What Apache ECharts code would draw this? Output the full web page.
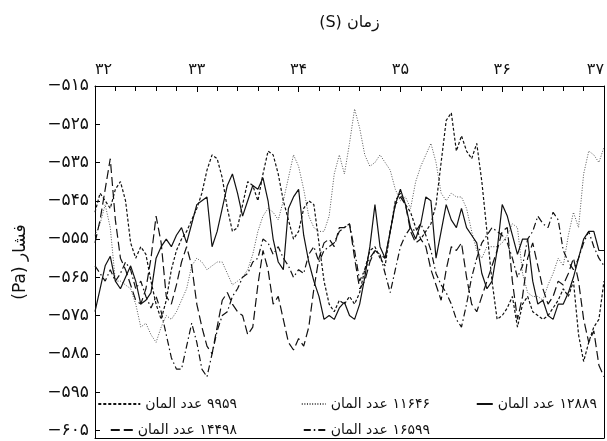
<!DOCTYPE html>
<html>
<head>
<meta charset="utf-8">
<script src="https://cdn.jsdelivr.net/npm/echarts@6/dist/echarts.min.js"></script>
<style>
  html, body { margin: 0; padding: 0; background: #fff; }
  #chart { width: 607px; height: 441px; }
</style>
</head>
<body>
<div id="chart"></div>
<script>
// sample times (s)
const times = [
  32.00, 32.05, 32.10, 32.15, 32.20, 32.25, 32.30, 32.35, 32.40, 32.45,
  32.50, 32.55, 32.60, 32.65, 32.70, 32.75, 32.80, 32.85, 32.90, 32.95,
  33.00, 33.05, 33.10, 33.15, 33.20, 33.25, 33.30, 33.35, 33.40, 33.45,
  33.50, 33.55, 33.60, 33.65, 33.70, 33.75, 33.80, 33.85, 33.90, 33.95,
  34.00, 34.05, 34.10, 34.15, 34.20, 34.25, 34.30, 34.35, 34.40, 34.45,
  34.50, 34.55, 34.60, 34.65, 34.70, 34.75, 34.80, 34.85, 34.90, 34.95,
  35.00, 35.05, 35.10, 35.15, 35.20, 35.25, 35.30, 35.35, 35.40, 35.45,
  35.50, 35.55, 35.60, 35.65, 35.70, 35.75, 35.80, 35.85, 35.90, 35.95,
  36.00, 36.05, 36.10, 36.15, 36.20, 36.25, 36.30, 36.35, 36.40, 36.45,
  36.50, 36.55, 36.60, 36.65, 36.70, 36.75, 36.80, 36.85, 36.90, 36.95,
  37.00
];

// pressure (Pa) per mesh size
const p9959 = [
  -548, -543, -545, -547, -542, -540, -545, -556, -560, -557,
  -559, -566, -572, -576, -571, -563, -558, -555, -553, -550,
  -547, -543, -537, -533, -534, -539, -547, -553, -552, -546,
  -540, -541, -545, -538, -532, -533, -538, -545, -550, -555,
  -553, -547, -545, -546, -556, -566, -572, -574, -571, -572,
  -570, -572, -569, -563, -558, -557, -560, -562, -553, -545,
  -543, -546, -548, -552, -555, -553, -551, -546, -535, -524,
  -522, -532, -528, -532, -534, -530, -540, -553, -566, -576,
  -575, -573, -570, -578, -572, -570, -574, -575, -576, -575,
  -573, -571, -568, -570, -566, -580, -587, -582, -578, -576,
  -566
];
const p11646 = [
  -554, -551, -546, -552, -566, -566, -567, -568, -572, -578,
  -577, -580, -582, -578, -575, -576, -574, -571, -568, -562,
  -560, -561, -563, -562, -561, -561, -564, -567, -566, -565,
  -563, -559, -553, -549, -547, -548, -550, -545, -539, -533,
  -536, -542, -549, -552, -553, -553, -549, -538, -533, -538,
  -530, -521, -526, -533, -536, -535, -533, -535, -537, -542,
  -545, -544, -547, -540, -536, -533, -530, -535, -543, -545,
  -543, -544, -544, -547, -553, -558, -560, -557, -557, -557,
  -556, -554, -551, -552, -564, -569, -570, -570, -571, -567,
  -564, -560, -562, -554, -548, -552, -538, -532, -533, -535,
  -531
];
const p12889 = [
  -574, -568, -562, -559.5, -566, -568, -565, -562, -566, -572,
  -571, -569, -560, -557, -555, -557, -554, -552, -556, -551,
  -546, -545, -544, -557, -553, -547, -541, -538, -543, -549,
  -545, -541, -542, -539, -545, -555, -561, -563, -547, -544,
  -542, -554, -561, -566, -570, -576, -575, -576, -573, -571.5,
  -575, -576, -572, -565, -557, -546, -557, -560, -553, -546,
  -542, -546, -552, -555, -551, -544, -545, -560, -553, -546,
  -550, -552, -547, -552, -554, -556, -564, -568, -566, -558,
  -546, -549, -554, -559, -555, -555, -566, -572, -571, -575,
  -576, -572, -572, -569, -565, -560, -555, -553, -553, -558,
  -558
];
const p14498 = [
  -556, -550, -542, -534, -550, -560, -563, -567, -571, -572,
  -568, -560, -549, -556, -570, -572, -567, -561, -557, -562,
  -572, -578, -583, -585, -578, -571, -569, -572, -574, -575,
  -580, -578, -567, -558, -563, -572, -570, -576, -582, -584,
  -581, -583, -578, -568, -560, -556, -555, -557, -552, -552,
  -551, -560, -568, -566, -561, -558, -559, -560, -553, -546,
  -544, -546, -553, -556, -555, -557, -563, -567, -571, -563,
  -557, -558, -556, -565, -572, -574, -570, -566, -562, -558,
  -553, -552, -566, -576, -570, -560, -556, -562, -568, -572,
  -570, -566, -567, -564, -560, -566, -576, -582, -579, -588,
  -591
];
const p16599 = [
  -562, -564, -566, -563, -566, -564, -561, -563, -568, -566,
  -570, -573, -570, -574, -580, -586, -589, -589, -583, -577,
  -582, -589, -591, -585, -579, -575, -574, -570, -568, -565,
  -564, -561, -560, -555, -556, -559, -557, -560, -562, -565,
  -563, -564, -559, -557, -561, -558, -557, -556, -553, -552,
  -551, -558, -566, -563, -560, -558, -559, -564, -569, -563,
  -557, -554, -552, -553, -551, -554, -558, -564, -567, -569,
  -572, -576, -578, -572, -565, -560, -556, -554, -552, -553,
  -554, -556, -560, -565, -562, -555, -553, -549, -551, -552,
  -548, -550, -558, -561, -563, -560, -556, -553, -557, -560,
  -562
];

const xTicks = [32, 33, 34, 35, 36, 37];
const yTicks = [-515, -525, -535, -545, -555, -565, -575, -585, -595, -605];

const FONT = "'DejaVu Sans', 'Noto Sans', sans-serif";
const fa = (s) => String(s).replace(/\d/g, (d) => "۰۱۲۳۴۵۶۷۸۹"[d]);
const rtl = (s) => "\u202B" + s + "\u202C";

const names = {
  n9959: rtl("۹۹۵۹ عدد المان"),
  n11646: rtl("۱۱۶۴۶ عدد المان"),
  n12889: rtl("۱۲۸۸۹ عدد المان"),
  n14498: rtl("۱۴۴۹۸ عدد المان"),
  n16599: rtl("۱۶۵۹۹ عدد المان"),
};

const pairs = (vals) => times.map((t, i) => [t, vals[i]]);

const lineSeries = (name, vals, style) => ({
  name: name,
  type: "line",
  data: pairs(vals),
  symbol: "none",
  lineStyle: Object.assign({ color: "#111", width: 1.2 }, style),
  itemStyle: { color: style.color || "#111" },
});

const legendItem = (name, right, top, w) => ({
  data: [name],
  right: right,
  top: top,
  padding: 0,
  itemWidth: w,
  itemHeight: 10,
  selectedMode: false,
  itemStyle: { opacity: 0 },
  textStyle: { fontFamily: FONT, fontSize: 14, color: "#111" },
});

const chart = echarts.init(document.getElementById("chart"));

const option = {
  animation: false,
  grid: { left: 95, right: 2, top: 86, bottom: 3 },
  xAxis: [
    {
      type: "value",
      position: "top",
      min: xTicks[0],
      max: xTicks[xTicks.length - 1],
      interval: 1,
      name: rtl("زمان (S)"),
      nameLocation: "middle",
      nameGap: 55,
      nameTextStyle: { fontFamily: FONT, fontSize: 16, color: "#111" },
      axisLine: { show: true, lineStyle: { color: "#000" } },
      axisTick: { show: true, inside: true, length: 6, lineStyle: { color: "#000" } },
      minorTick: { show: true, splitNumber: 5, length: 5, lineStyle: { color: "#000" } },
      axisLabel: {
        formatter: (v) => fa(v),
        fontFamily: FONT,
        fontSize: 16,
        color: "#111",
        margin: 8,
        alignMinLabel: "left",
        alignMaxLabel: "right",
      },
      splitLine: { show: false },
    },
    {
      type: "value",
      position: "bottom",
      min: xTicks[0],
      max: xTicks[xTicks.length - 1],
      axisLine: { show: true, lineStyle: { color: "#000" } },
      axisTick: { show: false },
      axisLabel: { show: false },
      splitLine: { show: false },
    },
  ],
  yAxis: [
    {
      type: "value",
      position: "left",
      min: -607,
      max: -515,
      name: rtl("فشار (Pa)"),
      nameLocation: "middle",
      nameGap: 66,
      nameRotate: 90,
      nameTextStyle: { fontFamily: FONT, fontSize: 17, color: "#111" },
      axisLine: { show: true, lineStyle: { color: "#000" } },
      axisTick: {
        show: true,
        inside: true,
        length: 5,
        lineStyle: { color: "#000" },
        customValues: yTicks,
      },
      axisLabel: {
        customValues: yTicks,
        formatter: (v) => "−" + fa(Math.abs(v)),
        fontFamily: FONT,
        fontSize: 17,
        color: "#111",
        margin: 6,
      },
      splitLine: { show: false },
    },
    {
      type: "value",
      position: "right",
      min: -607,
      max: -515,
      axisLine: { show: true, lineStyle: { color: "#000" } },
      axisTick: { show: false },
      axisLabel: { show: false },
      splitLine: { show: false },
    },
  ],
  legend: [
    legendItem(names.n9959, 370, 397, 42),
    legendItem(names.n11646, 177, 397, 24),
    legendItem(names.n12889, 10, 397, 16),
    legendItem(names.n14498, 370, 423, 22),
    legendItem(names.n16599, 177, 423, 22),
  ],
  series: [
    lineSeries(names.n11646, p11646, { color: "#555", width: 1, type: [1, 1.6] }),
    lineSeries(names.n9959, p9959, { type: [3, 2] }),
    lineSeries(names.n14498, p14498, { type: [9, 4] }),
    lineSeries(names.n16599, p16599, { type: [7, 3, 1.5, 3] }),
    lineSeries(names.n12889, p12889, { type: "solid" }),
  ],
};

chart.setOption(option);
window.addEventListener("resize", () => chart.resize());
</script>
</body>
</html>
